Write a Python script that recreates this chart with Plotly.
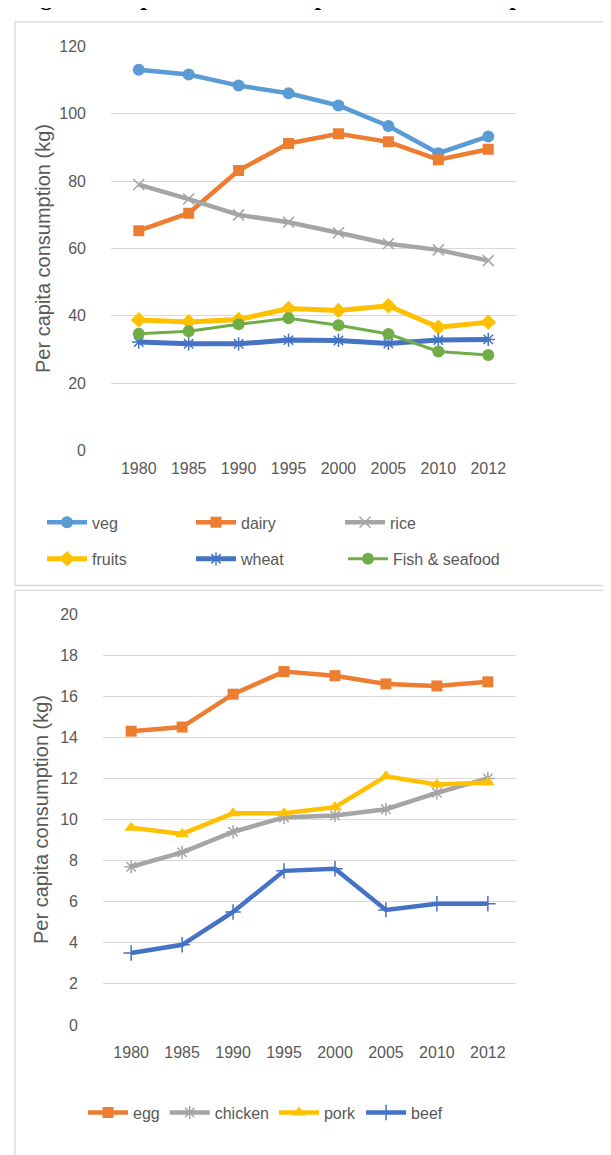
import plotly.graph_objects as go

W, H = 611, 1155

years = ["1980", "1985", "1990", "1995", "2000", "2005", "2010", "2012"]

# Panel 1 (kg per capita)
veg = [113.1, 111.7, 108.4, 106.1, 102.5, 96.4, 88.3, 93.3]
dairy = [65.3, 70.5, 83.2, 91.2, 94.1, 91.7, 86.4, 89.5]
rice = [79.0, 74.7, 70.0, 67.8, 64.7, 61.4, 59.6, 56.4]
fruits = [38.8, 38.2, 38.9, 42.2, 41.6, 43.0, 36.6, 38.1]
wheat = [32.2, 31.7, 31.7, 32.8, 32.7, 31.8, 32.8, 33.0]
fish = [34.7, 35.4, 37.5, 39.3, 37.2, 34.6, 29.4, 28.4]

# Panel 2 (kg per capita)
egg = [14.3, 14.5, 16.1, 17.2, 17.0, 16.6, 16.5, 16.7]
chicken = [7.7, 8.4, 9.4, 10.1, 10.2, 10.5, 11.3, 12.0]
pork = [9.6, 9.3, 10.3, 10.3, 10.6, 12.1, 11.7, 11.8]
beef = [3.5, 3.9, 5.5, 7.5, 7.6, 5.6, 5.9, 5.9]

y1_ticks = [0, 20, 40, 60, 80, 100, 120]
y2_ticks = [0, 2, 4, 6, 8, 10, 12, 14, 16, 18, 20]

FONT = "Liberation Sans"
TXT = "#595959"
GRID = "#D9D9D9"


def px_x(x):
    return x / W


def px_y(y):
    return 1 - y / H


fig = go.Figure()

def add(name, ys, color, symbol, xa, ya, legend, lw=4.5, ms=11, mline=None):
    marker = dict(symbol=symbol, size=ms, color=color)
    if mline:
        marker["line"] = dict(color=color, width=mline)
    fig.add_trace(go.Scatter(
        x=years, y=ys, name=name, mode="lines+markers",
        line=dict(color=color, width=lw), marker=marker,
        xaxis=xa, yaxis=ya, legend=legend))

add("veg", veg, "#5B9BD5", "circle", "x", "y", "legend", ms=12)
add("dairy", dairy, "#ED7D31", "square", "x", "y", "legend", ms=11)
add("rice", rice, "#A5A5A5", "x-thin", "x", "y", "legend", ms=11, mline=1.5)
add("fruits", fruits, "#FFC000", "diamond", "x", "y", "legend3", ms=12, lw=5)
add("wheat", wheat, "#4472C4", "asterisk", "x", "y", "legend3", ms=11, lw=5, mline=1.5)
add("Fish & seafood", fish, "#70AD47", "circle", "x", "y", "legend4", ms=12, lw=3)

add("egg", egg, "#ED7D31", "square", "x2", "y2", "legend2", ms=11)
add("chicken", chicken, "#A5A5A5", "asterisk", "x2", "y2", "legend2", ms=11, mline=1.5)
add("pork", pork, "#FFC000", "triangle-up", "x2", "y2", "legend2", ms=12)
add("beef", beef, "#4472C4", "cross-thin", "x2", "y2", "legend2", ms=11, mline=1.5)

axis_common = dict(showline=False, zeroline=False, ticks="",
                   tickfont=dict(family=FONT, size=16, color=TXT))

leg_font = dict(family=FONT, size=16, color=TXT)

fig.update_layout(
    width=W, height=H,
    margin=dict(l=0, r=0, t=0, b=0),
    paper_bgcolor="white", plot_bgcolor="white",
    font=dict(family=FONT, size=16, color=TXT),
    xaxis=dict(domain=[px_x(103), px_x(508)], anchor="y", type="category",
               showgrid=False, ticklabelstandoff=6, **axis_common),
    yaxis=dict(domain=[px_y(441), px_y(31)], anchor="x", range=[0, 120],
               tickvals=y1_ticks, showgrid=True, gridcolor=GRID, gridwidth=1.3,
               ticklabelstandoff=24,
               title=dict(text="Per capita consumption (kg)",
                          font=dict(family=FONT, size=20, color=TXT), standoff=3),
               **axis_common),
    xaxis2=dict(domain=[px_x(95), px_x(508)], anchor="y2", type="category",
                showgrid=False, ticklabelstandoff=16, **axis_common),
    yaxis2=dict(domain=[px_y(1024), px_y(607)], anchor="x2", range=[0, 20],
                tickvals=y2_ticks, showgrid=True, gridcolor=GRID, gridwidth=1.3,
                ticklabelstandoff=24,
                title=dict(text="Per capita consumption (kg)",
                           font=dict(family=FONT, size=20, color=TXT), standoff=6),
                **axis_common),
    legend=dict(orientation="h", x=px_x(34), y=px_y(514), xanchor="left", yanchor="middle",
                entrywidth=94, entrywidthmode="pixels", itemwidth=40,
                font=leg_font, bgcolor="rgba(0,0,0,0)"),
    legend3=dict(orientation="h", x=px_x(34), y=px_y(551), xanchor="left", yanchor="middle",
                 entrywidth=94, entrywidthmode="pixels", itemwidth=40,
                 font=leg_font, bgcolor="rgba(0,0,0,0)"),
    legend4=dict(orientation="h", x=px_x(335), y=px_y(551), xanchor="left", yanchor="middle",
                 itemwidth=40, font=leg_font, bgcolor="rgba(0,0,0,0)"),
    legend2=dict(orientation="h", x=px_x(75), y=px_y(1113), xanchor="left", yanchor="middle",
                 itemwidth=40, font=leg_font, bgcolor="rgba(0,0,0,0)"),
    showlegend=True,
)

# panel borders
fig.add_shape(type="rect", xref="paper", yref="paper",
              x0=px_x(7), x1=1.05, y0=px_y(578), y1=px_y(6),
              line=dict(color=GRID, width=1.3), fillcolor="rgba(0,0,0,0)", layer="below")
fig.add_shape(type="rect", xref="paper", yref="paper",
              x0=px_x(7), x1=1.05, y0=-0.05, y1=px_y(583),
              line=dict(color=GRID, width=1.3), fillcolor="rgba(0,0,0,0)", layer="below")

# cut-off heading at the very top
fig.add_annotation(text="<b>Fig. 4 Food per head consumption of main food products in Japan</b>",
                   xref="paper", yref="paper", x=px_x(10), y=px_y(-5), xanchor="left",
                   yanchor="bottom", showarrow=False, borderpad=0,
                   font=dict(family="Liberation Serif", size=24, color="black"))

fig.write_html("out.html")
